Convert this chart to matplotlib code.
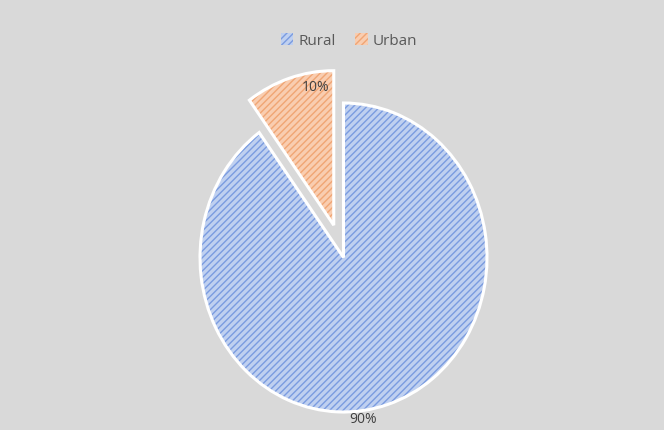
import numpy as np
import matplotlib
matplotlib.use("Agg")
import matplotlib.pyplot as plt
from matplotlib.patches import Patch

# Population share by area
categories = ["Rural", "Urban"]
shares = [90, 10]
value_labels = ["90%", "10%"]

face_colors = ["#bfd0f0", "#f9cdb0"]
hatch_colors = ["#7a9be0", "#f0a574"]
explode = [0.0, 0.22]
hatch = "/////"

plt.rcParams["hatch.linewidth"] = 1.0
plt.rcParams["font.family"] = ["Open Sans", "DejaVu Sans"]

fig = plt.figure(figsize=(6.64, 4.30), dpi=100)
fig.patch.set_facecolor("#d9d9d9")
ax = fig.add_axes([0, 0, 1, 1])
ax.set_facecolor("#d9d9d9")

# hatched fill layer
wedges, _ = ax.pie(shares, startangle=90, counterclock=False, explode=explode,
                   colors=face_colors, wedgeprops=dict(linewidth=0))
for w, hc in zip(wedges, hatch_colors):
    w.set_hatch(hatch)
    w.set_edgecolor(hc)
    w.set_linewidth(0)

# white outlines on top
outl, _ = ax.pie(shares, startangle=90, counterclock=False, explode=explode,
                 wedgeprops=dict(fill=False, edgecolor="white", linewidth=2.2))

# data labels
for w, lab, ang, r in zip(wedges, value_labels, [-82.5, 98.0], [1.06, 0.9]):
    cx, cy = w.center
    a = np.deg2rad(ang)
    ax.text(cx + r * np.cos(a), cy + r * np.sin(a), lab, ha="center", va="center",
            fontsize=10, color="#404040")

ax.set_aspect("auto")
ax.set_xlim(-343.5 / 143.5, (664 - 343.5) / 143.5)
ax.set_ylim(-(430 - 257.5) / 154.5, 257.5 / 154.5)
ax.axis("off")

handles = [Patch(facecolor=fc, edgecolor=hc, hatch=hatch, linewidth=0)
           for fc, hc in zip(face_colors, hatch_colors)]
fig.legend(handles, categories, loc="center", bbox_to_anchor=(349 / 664, 1 - 41 / 430),
           ncol=2, frameon=False, fontsize=11, labelcolor="#595959",
           handlelength=0.8, handleheight=0.8, handletextpad=0.35, columnspacing=1.3)

fig.savefig("out.png", dpi=100, facecolor=fig.get_facecolor())
